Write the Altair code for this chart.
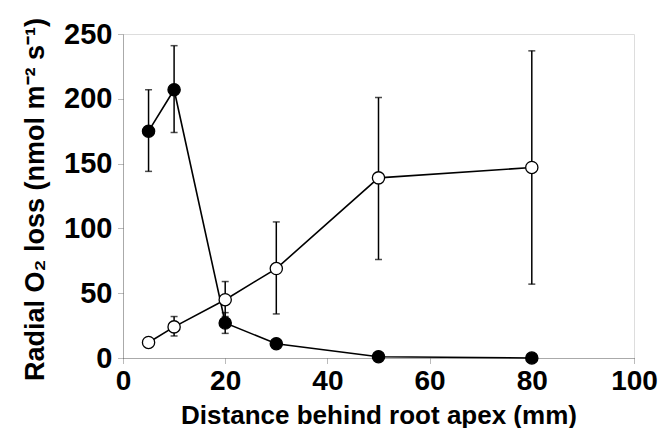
import altair as alt
import pandas as pd

distance = [5, 10, 20, 30, 50, 80]
filled_mean = [175, 207, 27, 11, 1, 0]
filled_lo = [144, 174, 19, 11, 1, 0]
filled_hi = [207, 241, 35, 11, 1, 0]
open_mean = [12, 24, 45, 69, 139, 147]
open_lo = [9, 17, 32, 34, 76, 57]
open_hi = [15, 32, 59, 105, 201, 237]

filled = pd.DataFrame({"x": distance, "y": filled_mean, "lo": filled_lo, "hi": filled_hi})
opn = pd.DataFrame({"x": distance, "y": open_mean, "lo": open_lo, "hi": open_hi})

FONT = "Liberation Sans"

xs = alt.Scale(domain=[0, 100], nice=False, zero=True)
ys = alt.Scale(domain=[0, 250], nice=False)

xax = alt.Axis(values=[0, 20, 40, 60, 80, 100], title="Distance behind root apex (mm)",
               grid=False, labelFontSize=28, labelFont=FONT, labelFontWeight="bold",
               labelColor="black", titleFontSize=26, titleFont=FONT, titleFontWeight="bold",
               titleColor="black", tickSize=5, tickColor="#777", domainColor="#777",
               domainDash=[1, 1], tickDash=[1, 1], labelPadding=4,
               titleY=65, titleBaseline="alphabetic", labelFlush=False)
yax = alt.Axis(values=[0, 50, 100, 150, 200, 250], title="Radial O₂ loss (nmol m⁻² s⁻¹)",
               grid=False, labelFontSize=29, labelFont=FONT, labelFontWeight="bold",
               labelColor="black", titleFontSize=27, titleFont=FONT, titleFontWeight="bold",
               titleColor="black", tickSize=5, tickColor="#777", domainColor="#777",
               domainDash=[1, 1], tickDash=[1, 1], labelPadding=6,
               titleX=-80, titleY=165, titleAngle=270, titleBaseline="alphabetic",
               titleAlign="center", labelFlush=False)

X = alt.X("x:Q", scale=xs, axis=xax)
Y = alt.Y("y:Q", scale=ys, axis=yax)


def series(df, fill):
    base = alt.Chart(df)
    bars = base.mark_rule(color="black", strokeWidth=1.5).encode(
        x=alt.X("x:Q", scale=xs), y=alt.Y("lo:Q", scale=ys), y2="hi:Q")
    cap_hi = base.mark_tick(color="black", orient="horizontal", size=7, thickness=1.5).encode(
        x=alt.X("x:Q", scale=xs), y=alt.Y("hi:Q", scale=ys))
    cap_lo = base.mark_tick(color="black", orient="horizontal", size=7, thickness=1.5).encode(
        x=alt.X("x:Q", scale=xs), y=alt.Y("lo:Q", scale=ys))
    line = base.mark_line(color="black", strokeWidth=1.6).encode(x=X, y=Y)
    pts = base.mark_point(shape="circle", filled=True, fill=fill, stroke="black",
                          strokeWidth=1.3, size=150, opacity=1).encode(
        x=alt.X("x:Q", scale=xs), y=alt.Y("y:Q", scale=ys))
    return bars, cap_hi, cap_lo, line, pts


fb, fch, fcl, fl, fp = series(filled, "black")
ob, och, ocl, ol, op = series(opn, "white")

chart = alt.layer(fb, fch, fcl, ob, och, ocl, fl, ol, fp, op).properties(
    width=511, height=324,
    autosize=alt.AutoSizeParams(type="none"),
    padding={"left": 115, "top": 26, "right": 27, "bottom": 70},
).configure_view(stroke="#777", strokeDash=[1, 1], strokeWidth=1).configure(background="white")

chart.save("out.html", embed_options={"renderer": "svg", "actions": False})
